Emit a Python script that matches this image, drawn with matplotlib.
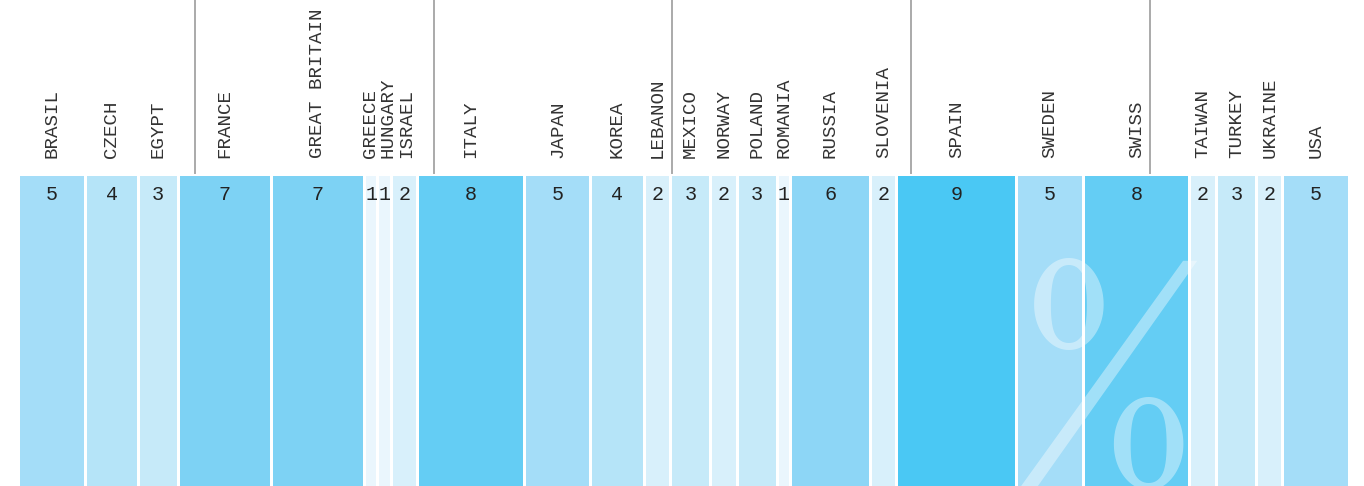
import matplotlib
matplotlib.use("Agg")
import matplotlib.pyplot as plt
import numpy as np

countries = ["BRASIL", "CZECH", "EGYPT", "FRANCE", "GREAT BRITAIN", "GREECE",
             "HUNGARY", "ISRAEL", "ITALY", "JAPAN", "KOREA", "LEBANON", "MEXICO",
             "NORWAY", "POLAND", "ROMANIA", "RUSSIA", "SLOVENIA", "SPAIN",
             "SWEDEN", "SWISS", "TAIWAN", "TURKEY", "UKRAINE", "USA"]
values = [5, 4, 3, 7, 7, 1, 1, 2, 8, 5, 4, 2, 3, 2, 3, 1, 6, 2, 9, 5, 8, 2, 3, 2, 5]

# colour per value level (1..9)
level_colors = {1: "#EAF6FD", 2: "#D8F0FB", 3: "#C6EAF9", 4: "#B5E4F8",
                5: "#A4DDF8", 6: "#8DD6F6", 7: "#7DD2F4", 8: "#64CDF4", 9: "#4AC8F4"}

# decorative separator lines (in percentage units along the strip)
separators = [13.15, 31.1, 49.0, 66.95, 84.9]

# small label nudges (pixels) so crowded labels don't overlap
label_nudge = {"GREECE": -1, "HUNGARY": 3, "ISRAEL": 2}

W, H = 1364, 486
fig = plt.figure(figsize=(W / 100, H / 100), dpi=100)
ax = fig.add_axes([0, 0, 1, 1])
px = 13.31  # pixels per unit
x0 = -20 / px
ax.set_xlim(x0, x0 + W / px)
ax.set_ylim(0, H)
ax.axis("off")

gap = 3 / px
bar_top = H - 176
starts = np.concatenate([[0], np.cumsum(values)[:-1]])

ax.bar(starts, [bar_top] * len(values), width=np.array(values) - gap, align="edge",
       color=[level_colors[v] for v in values], linewidth=0, zorder=1)

for s, v, name in zip(starts, values, countries):
    cx = s + (v - gap) / 2
    ax.text(cx, H - 195, str(v), ha="center", va="center", fontsize=14.5,
            family="Liberation Mono", color="#222222", zorder=3)
    ax.text(cx + label_nudge.get(name, 0) / px, H - 158, name, ha="center",
            va="bottom", rotation=90, fontsize=13.8, family="Liberation Mono",
            color="#333333", zorder=3)

for sx in separators:
    ax.plot([sx, sx], [H - 173, H], color="#aaaaaa", lw=1.4, zorder=2)

# big percent watermark
swiss_start = starts[countries.index("SWISS")]
ax.text(swiss_start + 1.75, H - 243, "%", ha="center", va="top", fontsize=212,
        family=["Libre Baskerville", "Liberation Serif"], color="white",
        alpha=0.4, zorder=2)

fig.savefig("out.png", dpi=100)
